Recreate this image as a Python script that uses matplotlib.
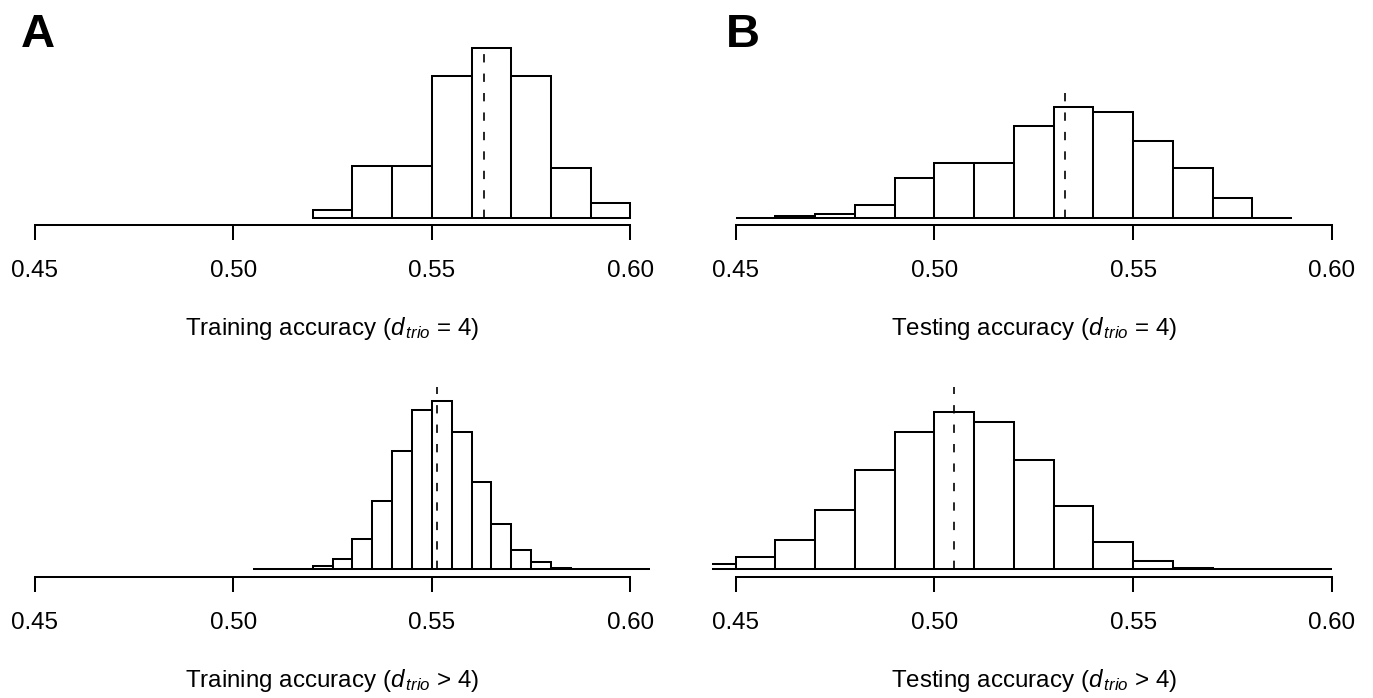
import matplotlib
matplotlib.use("Agg")
import matplotlib.pyplot as plt
import numpy as np

plt.rcParams['font.family'] = ['Liberation Sans', 'DejaVu Sans']
plt.rcParams['mathtext.fontset'] = 'custom'
plt.rcParams['mathtext.it'] = 'Liberation Sans:italic'
plt.rcParams['mathtext.rm'] = 'Liberation Sans'
plt.rcParams['lines.scale_dashes'] = False

# ---------------- data (frequencies, arbitrary units) -------------
tick_values = [0.45, 0.50, 0.55, 0.60]
tick_labels = ["0.45", "0.50", "0.55", "0.60"]

# A, top: training accuracy (d_trio = 4); bins of 0.01 starting at 0.52
train4_start, train4_width = 0.52, 0.01
train4_counts = [25, 156, 156, 426, 512, 426, 150, 45]
train4_mean, train4_line_top = 0.5631, 501

# B, top: testing accuracy (d_trio = 4); bins of 0.01 starting at 0.45
test4_start, test4_width = 0.45, 0.01
test4_counts = [2, 8, 13, 40, 121, 165, 165, 276, 334, 320, 233, 150, 60, 2]
test4_mean, test4_line_top = 0.5328, 381

# A, bottom: training accuracy (d_trio > 4); bins of 0.005 starting at 0.505
traingt4_start, traingt4_width = 0.505, 0.005
traingt4_counts = [0, 0.5, 2, 9, 31, 91, 204, 356, 478, 504, 413, 262, 135, 59, 21,
                   4, 1, 0.5, 0, 0]
traingt4_mean, traingt4_line_top = 0.5512, 548

# B, bottom: testing accuracy (d_trio > 4); bins of 0.01 starting at 0.44
testgt4_start, testgt4_width = 0.44, 0.01
testgt4_counts = [15, 37, 88, 177, 298, 413, 472, 443, 329, 189, 81, 25, 4, 1, 0, 0]
testgt4_mean, testgt4_line_top = 0.5050, 548

top_row_ymax = 512
bottom_row_ymax = 600

xlabels = [r"Training accuracy ($d_{\,trio}$ = 4)", r"Testing accuracy ($d_{\,trio}$ = 4)",
           r"Training accuracy ($d_{\,trio}$ > 4)", r"Testing accuracy ($d_{\,trio}$ > 4)"]
panel_letters = ["A", "B"]

# ---------------- figure ----------------
W, H = 1373, 698
fig = plt.figure(figsize=(W / 100, H / 100), dpi=100)
fig.patch.set_facecolor("white")

LW = 1.45
FS = 17.4


def px_axes(l, t, r, b):
    return fig.add_axes([l / W, 1 - b / H, (r - l) / W, (b - t) / H])


panels = [
    dict(box=(10.9, 40.8, 654.3, 225.1), start=train4_start, width=train4_width,
         counts=train4_counts, mean=train4_mean, top=train4_line_top, ymax=top_row_ymax,
         label=xlabels[0], label_x=332.6, label_y=335.5),
    dict(box=(711.7, 40.8, 1355.8, 225.1), start=test4_start, width=test4_width,
         counts=test4_counts, mean=test4_mean, top=test4_line_top, ymax=top_row_ymax,
         label=xlabels[1], label_x=1033.8, label_y=335.5),
    dict(box=(10.9, 361.3, 654.3, 577.3), start=traingt4_start, width=traingt4_width,
         counts=traingt4_counts, mean=traingt4_mean, top=traingt4_line_top,
         ymax=bottom_row_ymax, label=xlabels[2], label_x=332.6, label_y=687.0),
    dict(box=(711.7, 361.3, 1355.8, 577.3), start=testgt4_start, width=testgt4_width,
         counts=testgt4_counts, mean=testgt4_mean, top=testgt4_line_top,
         ymax=bottom_row_ymax, label=xlabels[3], label_x=1033.8, label_y=687.0),
]

for p in panels:
    ax = px_axes(*p["box"])
    counts = np.asarray(p["counts"], dtype=float)
    lefts = p["start"] + p["width"] * np.arange(len(counts))
    ax.bar(lefts, counts, width=p["width"], align="edge", facecolor="white",
           edgecolor="black", linewidth=LW)
    ax.plot([p["mean"], p["mean"]], [0, p["top"]], color="black", lw=1.2,
            dashes=(6, 8), solid_capstyle="butt", dash_capstyle="butt")
    ax.set_xlim(0.444, 0.606)
    ax.set_ylim(-0.04 * p["ymax"], 1.04 * p["ymax"])
    for s in ["left", "right", "top"]:
        ax.spines[s].set_visible(False)
    ax.spines["bottom"].set_bounds(0.45, 0.60)
    ax.spines["bottom"].set_linewidth(LW)
    ax.set_xticks(tick_values)
    ax.set_xticklabels(tick_labels)
    ax.set_yticks([])
    ax.tick_params(axis="x", length=10.8, width=LW, pad=14.5, labelsize=FS)
    ax.patch.set_visible(False)
    fig.text(p["label_x"] / W, 1 - p["label_y"] / H, p["label"], ha="center",
             va="baseline", fontsize=FS)

fig.text(21 / W, 1 - 47 / H, panel_letters[0], fontsize=34, fontweight="bold",
         ha="left", va="baseline")
fig.text(726 / W, 1 - 47 / H, panel_letters[1], fontsize=34, fontweight="bold",
         ha="left", va="baseline")

fig.savefig("out.png", dpi=100, facecolor="white")
